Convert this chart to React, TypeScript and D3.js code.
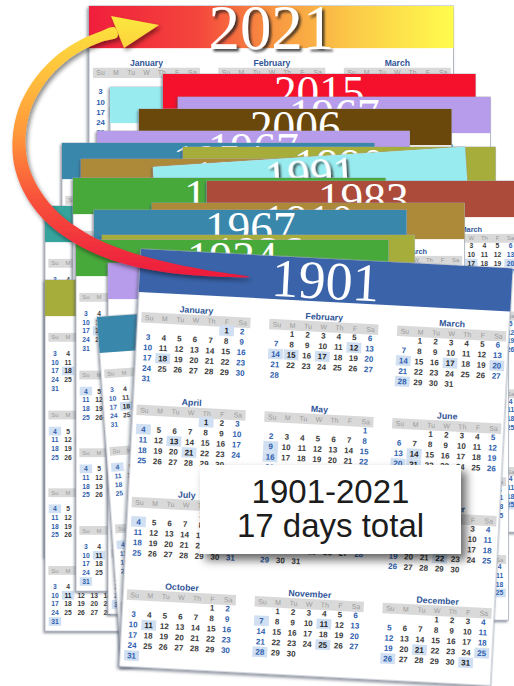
import React from "react";
import * as d3 from "d3";

// calendar layout shared by every page (all pages use the same weekday layout)
const layoutYear = 2021;
const monthNames = [
  "January", "February", "March", "April", "May", "June",
  "July", "August", "September", "October", "November", "December",
];
const weekdayLabels = ["Su", "M", "Tu", "W", "Th", "F", "Sa"];
const highlightDays = [
  "1-1", "1-18", "2-12", "2-14", "2-15", "2-17", "3-14", "3-17", "3-20", "3-28",
  "4-1", "4-4", "4-13", "4-21", "5-9", "5-16", "5-31", "6-14", "6-20", "6-21",
  "7-4", "9-6", "9-22", "10-11", "10-31", "11-7", "11-11", "11-25", "11-28",
  "12-21", "12-25", "12-26", "12-31",
];

// years on the stacked pages, back to front
const pageYears = [
  "2021", "1976", "2015", "1967", "2006", "1967", "1954", "1990", "1943", "1991",
  "1959", "1938", "1983", "1910", "1967", "1926", "1948", "1934", "1918", "1965",
  "1929", "1901",
];
const rangeLabel = "1901-2021";
const totalLabel = "17 days total";

// where each page lies on the desk
const pageLayout = [
  { x: 89, y: 6, s: 0.98, r: 0, fill: "url(#band2021)", size: 64, base: 44, shadow: true },
  { x: 110, y: 87, s: 0.84, r: 0, fill: "#98ecef" },
  { x: 163, y: 74, s: 0.84, r: 0, fill: "#f5102c" },
  { x: 178, y: 97, s: 0.84, r: 0, fill: "#b89cec" },
  { x: 139, y: 109, s: 0.84, r: 0, fill: "#6a470b" },
  { x: 97, y: 131, s: 0.84, r: 0, fill: "#b89cec" },
  { x: 62, y: 143, s: 0.84, r: 0, fill: "#3987ab" },
  { x: 183, y: 147, s: 0.84, r: 0, fill: "#a7ad3b" },
  { x: 81, y: 159, s: 0.84, r: 0, fill: "#ad893a" },
  { x: 153, y: 167, s: 0.84, r: -3.7, fill: "#98ecef", shadow: true },
  { x: 45, y: 206, s: 0.84, r: 0, fill: "#36a49d" },
  { x: 73, y: 178, s: 0.84, r: 0, fill: "#48a93b" },
  { x: 207, y: 181, s: 0.84, r: 0, fill: "#ac4b3a" },
  { x: 152, y: 203, s: 0.84, r: 0, fill: "#ad893a" },
  { x: 94, y: 210, s: 0.84, r: 0, fill: "#3987ab" },
  { x: 102, y: 235, s: 0.84, r: 0, fill: "#a7ad3b" },
  { x: 45, y: 280, s: 0.84, r: 0, fill: "#a7ad3b" },
  { x: 76, y: 240, s: 0.84, r: 0, fill: "#48a93b" },
  { x: 108, y: 263, s: 0.84, r: 0, fill: "#b89cec" },
  { x: 196, y: 269, s: 0.84, r: 0, fill: "#ac4b3a" },
  { x: 97, y: 317, s: 0.84, r: -4, fill: "#3987ab" },
  { x: 141, y: 249, s: 1, r: 3, fill: "#3a63a9", size: 54 },
];

// curved arrow spine: x, y, width
const arrowSpine: [number, number, number][] = [
  [250, 277, 0], [205, 273, 6], [160, 266, 10.5], [115, 254, 13.5], [82, 239, 14.5],
  [54, 219, 15], [34, 195, 15], [22, 168, 14], [19, 140, 13], [24, 111, 12],
  [37, 85, 11], [56, 63, 10.5], [78, 47, 10], [100, 37, 10], [116, 32, 10],
];
const arrowHead: [number, number][] = [[111, 16], [159, 25], [124, 48]];

const W = 372;
const H = 418;
const BAND = 43;
const COLW = 109.2;

const colX = d3.scaleLinear().domain([0, 2]).range([4, 260]);
const rowY = d3.scaleLinear().domain([0, 3]).range([58, 335.5]);
const dayX = d3.scaleBand<number>().domain(d3.range(7)).range([0, COLW]);
const weekY = d3.scaleLinear().domain([0, 5]).range([19, 71]);

const hiSet = new Set(highlightDays);
const months = monthNames.map((name, m) => {
  const first = new Date(layoutYear, m, 1);
  const days = d3.timeDays(first, d3.timeMonth.offset(first, 1));
  return {
    name,
    m,
    cells: days.map((d) => ({
      day: d.getDate(),
      wd: d.getDay(),
      row: d3.timeWeek.count(first, d),
      hi: hiSet.has(`${m + 1}-${d.getDate()}`),
    })),
  };
});

const bw = dayX.bandwidth();

// same grid on every page, so build the elements once
const monthGrid = months.map((mo) => (
  <g
    key={mo.m}
    transform={`translate(${colX(mo.m % 3)},${rowY(Math.floor(mo.m / 3))})`}
  >
    <text x={COLW / 2} y={3.2} textAnchor="middle" fontSize={8.8} fontWeight="bold" fill="#2f5597">
      {mo.name}
    </text>
    <rect x={0} y={5} width={COLW} height={10.5} fill="#d9d9d9" />
    {weekdayLabels.map((w, i) => (
      <text key={w} x={(dayX(i) ?? 0) + bw / 2} y={12.8} textAnchor="middle" fontSize={7} fill="#9a9a9a">
        {w}
      </text>
    ))}
    {mo.cells.map((c) => (
      <g key={c.day}>
        {c.hi && (
          <rect x={(dayX(c.wd) ?? 0) + 0.4} y={weekY(c.row) - 5.2} width={bw - 0.8} height={10.4} fill="#d0e0f2" />
        )}
        <text
          x={(dayX(c.wd) ?? 0) + bw / 2}
          y={weekY(c.row) + 2.9}
          textAnchor="middle"
          fontSize={8}
          fontWeight="bold"
          fill={c.wd === 0 || c.wd === 6 ? "#2f5fae" : c.hi ? "#222" : "#3c3c3c"}
        >
          {c.day}
        </text>
      </g>
    ))}
  </g>
));

type Layout = (typeof pageLayout)[number] & { size?: number; base?: number; shadow?: boolean };

const Page = ({ p, year }: { p: Layout; year: string }) => (
  <g transform={`translate(${p.x},${p.y}) rotate(${p.r}) scale(${p.s})`}>
    <rect width={W} height={H} fill="#fff" stroke="#9ea4b4" strokeWidth={0.8} filter="url(#pageShadow)" />
    <rect width={W} height={BAND} fill={p.fill} />
    <text
      x={W / 2}
      y={p.base ?? 40}
      textAnchor="middle"
      fontFamily="'Liberation Serif', 'Times New Roman', serif"
      fontSize={p.size ?? 54}
      fill="#fff"
      filter={p.shadow ? "url(#yearShadow)" : undefined}
    >
      {year}
    </text>
    {monthGrid}
  </g>
);

function arrowOutline() {
  const n = arrowSpine.length;
  const left: [number, number][] = [];
  const right: [number, number][] = [];
  arrowSpine.forEach(([x, y, w], i) => {
    const a = arrowSpine[Math.max(0, i - 1)];
    const b = arrowSpine[Math.min(n - 1, i + 1)];
    const tx = b[0] - a[0];
    const ty = b[1] - a[1];
    const len = Math.hypot(tx, ty) || 1;
    const nx = -ty / len;
    const ny = tx / len;
    left.push([x + (nx * w) / 2, y + (ny * w) / 2]);
    right.push([x - (nx * w) / 2, y - (ny * w) / 2]);
  });
  const pts = [...left, ...right.slice(1).reverse()];
  return d3.line().curve(d3.curveCatmullRomClosed.alpha(0.5))(pts) ?? "";
}

export default function App() {
  const shaft = arrowOutline();
  const head = d3.line()(arrowHead) + "Z";
  return (
    <svg
      width={514}
      height={686}
      style={{ position: "absolute", left: 0, top: 0, background: "#fff" }}
      fontFamily="'Liberation Sans', Arial, sans-serif"
    >
      <defs>
        <linearGradient id="band2021" x1="0" x2="1" y1="0" y2="0">
          <stop offset="0" stopColor="#f01e3c" />
          <stop offset="0.3" stopColor="#f4463c" />
          <stop offset="0.52" stopColor="#f89a42" />
          <stop offset="0.75" stopColor="#fccf48" />
          <stop offset="1" stopColor="#fffc4e" />
        </linearGradient>
        <linearGradient id="arrowGrad" gradientUnits="userSpaceOnUse" x1="0" y1="18" x2="0" y2="278">
          <stop offset="0" stopColor="#fbe63e" />
          <stop offset="0.22" stopColor="#ffc03e" />
          <stop offset="0.45" stopColor="#ff963a" />
          <stop offset="0.7" stopColor="#f8503a" />
          <stop offset="1" stopColor="#ec1a3e" />
        </linearGradient>
        <filter id="pageShadow" x="-10%" y="-10%" width="125%" height="125%">
          <feDropShadow dx={-1.5} dy={2} stdDeviation={1.5} floodColor="#3e465c" floodOpacity={0.6} />
        </filter>
        <filter id="yearShadow" x="-10%" y="-10%" width="130%" height="140%">
          <feDropShadow dx={2.5} dy={2.5} stdDeviation={1} floodColor="#222" floodOpacity={0.8} />
        </filter>
        <filter id="arrowShadow" x="-20%" y="-20%" width="150%" height="150%">
          <feDropShadow dx={2} dy={3} stdDeviation={2} floodColor="#000" floodOpacity={0.45} />
        </filter>
        <filter id="boxShadow" x="-20%" y="-20%" width="150%" height="160%">
          <feDropShadow dx={5} dy={6} stdDeviation={5} floodColor="#000" floodOpacity={0.6} />
        </filter>
      </defs>

      {pageLayout.map((p, i) => (
        <Page key={i} p={p as Layout} year={pageYears[i]} />
      ))}

      <g filter="url(#arrowShadow)">
        <path d={shaft} fill="url(#arrowGrad)" />
        <path d={head} fill="url(#arrowGrad)" />
      </g>

      <rect x={200} y={465} width={261} height={89} fill="#fff" filter="url(#boxShadow)" />
      <text x={330.5} y={503} textAnchor="middle" fontSize={33} fill="#1c1c1c">
        {rangeLabel}
      </text>
      <text x={330.5} y={537} textAnchor="middle" fontSize={33} fill="#1c1c1c">
        {totalLabel}
      </text>
    </svg>
  );
}
